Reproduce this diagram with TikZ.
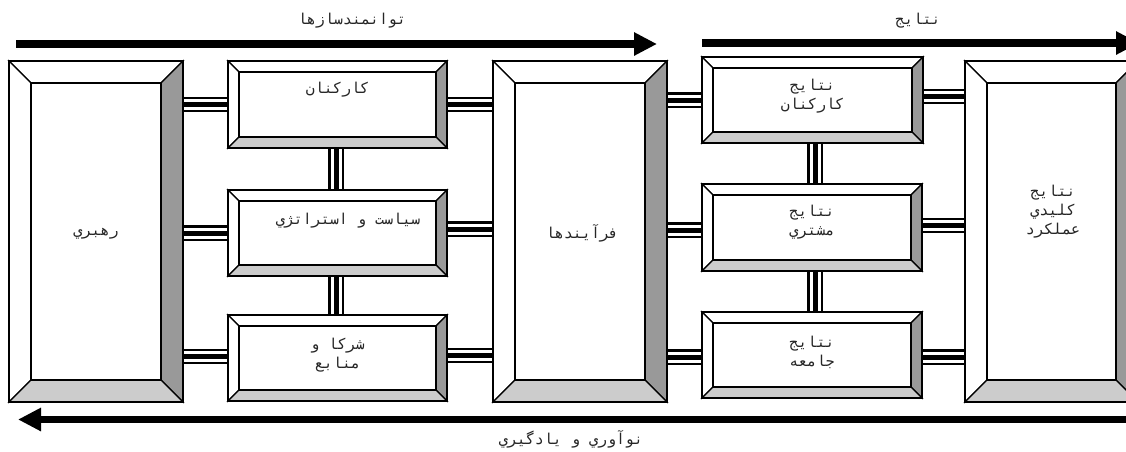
\documentclass[tikz,border=0pt]{standalone}
\usepackage{fontspec}
\newfontfamily\fa[Script=Arabic]{DejaVu Sans Mono}
\TeXXeTstate=1
\usetikzlibrary{arrows.meta}
\definecolor{shadeR}{HTML}{999999}
\definecolor{shadeB}{HTML}{CCCCCC}
\tikzset{
  panel/.style={rectangle, inner sep=0pt, outer sep=0pt},
  link/.style={line width=15.5pt, draw=black,
    postaction={draw=white, line width=11pt},
    postaction={draw=black, line width=5pt}},
  flow/.style={line width=8pt, -{Triangle[length=23pt,width=22pt]}},
  txt/.style={font=\fa\fontsize{15}{19}\selectfont, text=black!85, align=center, inner sep=0pt},
  facet/.style={draw=black, line width=1.3pt, line join=miter},
}
% bevelled frame around node #1, bevel width #2
\newcommand\bevelled[2]{%
  \filldraw[facet, fill=white] (#1.north west) -- (#1.north east)
    -- ([shift={(-#2,#2)}]#1.north east) -- ([shift={(#2,#2)}]#1.north west) -- cycle;
  \filldraw[facet, fill=white] (#1.north west) -- ([shift={(#2,#2)}]#1.north west)
    -- ([shift={(#2,-#2)}]#1.south west) -- (#1.south west) -- cycle;
  \filldraw[facet, fill=shadeR] (#1.north east) -- (#1.south east)
    -- ([shift={(-#2,-#2)}]#1.south east) -- ([shift={(-#2,#2)}]#1.north east) -- cycle;
  \filldraw[facet, fill=shadeB] (#1.south west) -- ([shift={(#2,-#2)}]#1.south west)
    -- ([shift={(-#2,-#2)}]#1.south east) -- (#1.south east) -- cycle;
  \draw[line width=1.3pt] ([shift={(#2,#2)}]#1.north west) rectangle ([shift={(-#2,-#2)}]#1.south east);
  \draw[line width=2.2pt] (#1.north west) rectangle (#1.south east);
}
\begin{document}
\begin{tikzpicture}[x=1pt, y=-1pt]
\useasboundingbox (0,0) rectangle (1126,451);
\clip (0,0) rectangle (1126,451);
\fill[white] (0,0) rectangle (1126,451);

% panels
\node[panel, minimum width=174pt, minimum height=341pt] (lead) at (96,231.5) {};
\node[panel, minimum width=219pt, minimum height=87pt] (staff) at (337.5,104.5) {};
\node[panel, minimum width=219pt, minimum height=86pt] (policy) at (337.5,233) {};
\node[panel, minimum width=219pt, minimum height=86pt] (partner) at (337.5,358) {};
\node[panel, minimum width=174pt, minimum height=341pt] (proc) at (580,231.5) {};
\node[panel, minimum width=221pt, minimum height=86pt] (rstaff) at (812.5,100) {};
\node[panel, minimum width=220pt, minimum height=87pt] (rcust) at (812,227.5) {};
\node[panel, minimum width=220pt, minimum height=86pt] (rsoc) at (812,355) {};
\node[panel, minimum width=173pt, minimum height=341pt] (kpr) at (1051.5,231.5) {};

% links between panels
\draw[link] (lead.east |- 0,104.5) -- (staff.west |- 0,104.5);
\draw[link] (lead.east |- 0,233) -- (policy.west |- 0,233);
\draw[link] (lead.east |- 0,356.5) -- (partner.west |- 0,356.5);
\draw[link] (staff.east |- 0,104.5) -- (proc.west |- 0,104.5);
\draw[link] (policy.east |- 0,229) -- (proc.west |- 0,229);
\draw[link] (partner.east |- 0,355.5) -- (proc.west |- 0,355.5);
\draw[link] (proc.east |- 0,100) -- (rstaff.west |- 0,100);
\draw[link] (proc.east |- 0,230) -- (rcust.west |- 0,230);
\draw[link] (proc.east |- 0,357) -- (rsoc.west |- 0,357);
\draw[link] (rstaff.east |- 0,96.5) -- (kpr.west |- 0,96.5);
\draw[link] (rcust.east |- 0,225.5) -- (kpr.west |- 0,225.5);
\draw[link] (rsoc.east |- 0,357) -- (kpr.west |- 0,357);
\draw[link] (staff.south -| 336,0) -- (policy.north -| 336,0);
\draw[link] (policy.south -| 336,0) -- (partner.north -| 336,0);
\draw[link] (rstaff.south -| 815,0) -- (rcust.north -| 815,0);
\draw[link] (rcust.south -| 815,0) -- (rsoc.north -| 815,0);

% bevelled frames
\bevelled{lead}{22}
\bevelled{staff}{11}
\bevelled{policy}{11}
\bevelled{partner}{11}
\bevelled{proc}{22}
\bevelled{rstaff}{11}
\bevelled{rcust}{11}
\bevelled{rsoc}{11}
\bevelled{kpr}{22}

% panel captions
\node[txt] (lead-t) at (96,234) {\beginR رهبري\endR};
\node[txt] (staff-t) at (337.5,90) {\beginR كاركنان\endR};
\node[txt] (policy-t) at (348,221) {\beginR سياست و استراتژي\endR};
\node[txt] (partner-t) at (337.5,355) {\beginR شركا و\endR\\\beginR منابع\endR};
\node[txt] (proc-t) at (582,233) {\beginR فرآيندها\endR};
\node[txt] (rstaff-t) at (812.5,96) {\beginR نتايج\endR\\\beginR كاركنان\endR};
\node[txt] (rcust-t) at (812,222) {\beginR نتايج\endR\\\beginR مشتري\endR};
\node[txt] (rsoc-t) at (812,352) {\beginR نتايج\endR\\\beginR جامعه\endR};
\node[txt] (kpr-t) at (1053,212) {\beginR نتايج\endR\\\beginR كليدي\endR\\\beginR عملكرد\endR};

% flow arrows and their captions
\coordinate (enA) at (16,44);
\coordinate (enB) at (657,44);
\draw[flow] (enA) -- (enB);
\coordinate (resA) at (702,43);
\coordinate (resB) at (1139,43);
\draw[flow] (resA) -- (resB);
\coordinate (learnA) at (1140,419.5);
\coordinate (learnB) at (18,419.5);
\draw[flow, line width=7.5pt] (learnA) -- (learnB);
\node[txt] (en-t) at (352,21) {\beginR توانمندسازها\endR};
\node[txt] (res-t) at (918,21) {\beginR نتايج\endR};
\node[txt] (learn-t) at (571,439) {\beginR نوآوري و يادگيري\endR};
\end{tikzpicture}
\end{document}
